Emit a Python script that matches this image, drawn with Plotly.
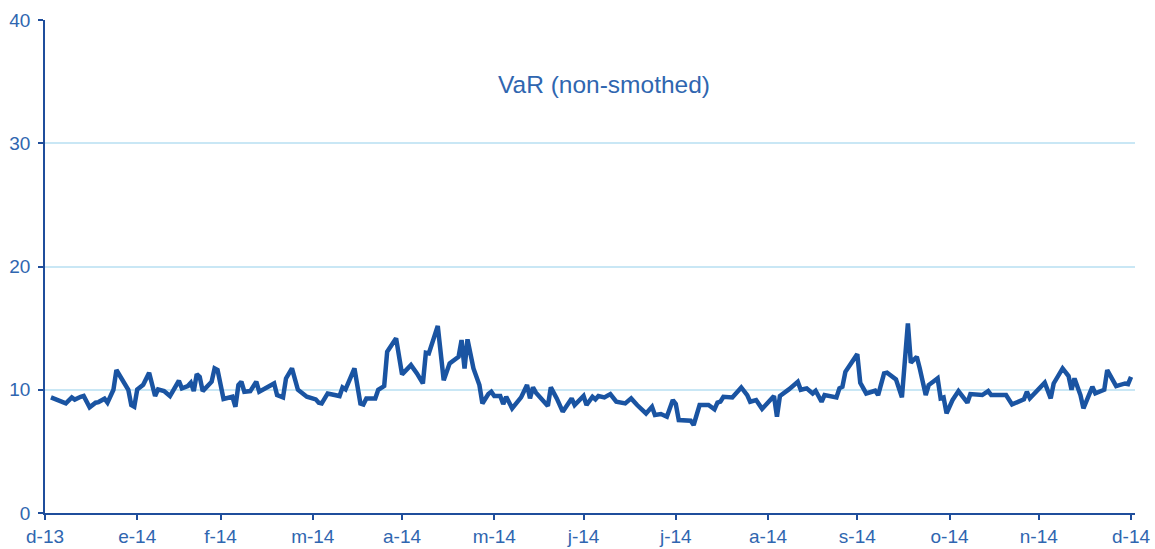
import pandas as pd
import plotly.graph_objects as go

# Days elapsed since 2013-12-31 for each observation
day_offsets = [
    2, 7, 9, 10, 12, 13, 15, 17, 18, 20, 21, 23, 24, 26, 28, 29, 30, 31, 33, 35,
    36, 37, 38, 40, 42, 44, 45, 46, 48, 49, 50, 51, 52, 53, 56, 57, 58, 60, 63, 64,
    65, 66, 67, 69, 71, 72, 77, 78, 80, 81, 83, 85, 88, 91, 92, 93, 95, 99, 100, 101,
    104, 106, 107, 108, 111, 112, 114, 115, 116, 118, 120, 123, 125, 127, 128, 129, 132, 134, 136, 139,
    140, 141, 142, 144, 146, 147, 149, 150, 151, 153, 154, 155, 157, 160, 162, 163, 164, 165, 169, 170,
    172, 174, 177, 178, 181, 182, 184, 185, 186, 188, 190, 192, 195, 197, 199, 202, 204, 205, 207, 209,
    211, 212, 213, 217, 218, 220, 223, 225, 226, 227, 228, 231, 234, 236, 237, 239, 241, 245, 246, 247,
    250, 253, 254, 256, 258, 259, 261, 262, 266, 267, 268, 269, 273, 274, 276, 279, 280, 282, 283, 286,
    288, 289, 290, 291, 293, 294, 296, 297, 300, 301, 302, 303, 305, 307, 310, 311, 315, 317, 318, 323,
    325, 329, 330, 331, 334, 336, 338, 339, 342, 344, 345, 346, 348, 349, 352, 353, 356, 357, 360, 363,
    364, 365,
]
var_values = [
    9.38, 8.9, 9.38, 9.2, 9.43, 9.5, 8.57, 8.95, 9.0, 9.27, 8.95, 10.0, 11.6, 10.8, 10.0, 8.76, 8.62, 10.03, 10.4, 11.38,
    10.24, 9.49, 10.03, 9.89, 9.49, 10.24, 10.73, 10.11, 10.3, 10.57, 9.89, 11.27, 11.05, 9.89, 10.65, 11.73, 11.6, 9.25, 9.43, 8.62,
    10.38, 10.65, 9.84, 9.89, 10.65, 9.84, 10.51, 9.57, 9.38, 10.92, 11.73, 10.0, 9.43, 9.22, 8.95, 8.89, 9.7, 9.49, 10.19, 10.03,
    11.73, 8.89, 8.81, 9.3, 9.3, 10.0, 10.3, 13.08, 13.49, 14.17, 11.25, 12.0, 11.33, 10.51, 13.0, 12.95, 15.17, 10.78, 12.14, 12.68,
    14.03, 11.73, 14.09, 11.73, 10.38, 8.89, 9.65, 9.84, 9.49, 9.49, 8.84, 9.43, 8.49, 9.38, 10.38, 9.3, 10.19, 9.76, 8.68, 10.19,
    9.3, 8.22, 9.3, 8.76, 9.49, 8.76, 9.43, 9.22, 9.49, 9.38, 9.65, 9.03, 8.89, 9.3, 8.76, 8.08, 8.62, 7.95, 8.03, 7.81,
    9.16, 8.84, 7.54, 7.49, 7.14, 8.76, 8.76, 8.41, 8.95, 9.03, 9.43, 9.38, 10.19, 9.57, 9.03, 9.16, 8.45, 9.49, 7.81, 9.49,
    10.03, 10.65, 10.0, 10.11, 9.7, 9.92, 9.03, 9.57, 9.38, 10.11, 10.24, 11.46, 12.89, 10.57, 9.7, 9.92, 9.57, 11.33, 11.38, 10.84,
    9.38, 12.95, 15.38, 12.19, 12.68, 11.73, 9.57, 10.38, 10.92, 9.3, 9.38, 8.08, 9.16, 9.89, 8.95, 9.65, 9.57, 9.89, 9.57, 9.57,
    8.81, 9.22, 9.84, 9.3, 10.0, 10.57, 9.3, 10.51, 11.73, 11.11, 10.0, 10.92, 9.57, 8.49, 10.24, 9.7, 10.0, 11.6, 10.3, 10.51,
    10.46, 11.05,
]

tick_dates = ["2013-12-31", "2014-01-31", "2014-02-28", "2014-03-31", "2014-04-30",
              "2014-05-31", "2014-06-30", "2014-07-31", "2014-08-31", "2014-09-30",
              "2014-10-31", "2014-11-30", "2014-12-31"]
tick_labels = ["d-13", "e-14", "f-14", "m-14", "a-14", "m-14", "j-14", "j-14",
               "a-14", "s-14", "o-14", "n-14", "d-14"]
y_ticks = [0, 10, 20, 30, 40]
title_text = "VaR (non-smothed)"

dates = pd.Timestamp("2013-12-31") + pd.to_timedelta(day_offsets, unit="D")

LINE = "#1A54A2"
TXT = "#2F66B0"
AX = "#1F4E9C"
GRID = "#C9E7F5"
FONT = "Arial, Liberation Sans, sans-serif"

fig = go.Figure()
fig.add_trace(go.Scatter(
    x=dates, y=var_values, mode="lines",
    line=dict(color=LINE, width=4.5), showlegend=False, hoverinfo="x+y",
))

fig.update_layout(
    width=1155, height=549,
    margin=dict(l=45, r=20, t=20, b=36, autoexpand=False),
    paper_bgcolor="white", plot_bgcolor="white",
    font=dict(family=FONT, size=19, color=TXT),
    xaxis=dict(
        type="date", automargin=False,
        range=["2013-12-31", "2015-01-01 08:00"],
        tickmode="array", tickvals=tick_dates, ticktext=tick_labels,
        showgrid=False, showline=True, linecolor=AX, linewidth=1.5,
        ticks="outside", ticklen=5, tickcolor=AX, tickwidth=1.5,
        tickfont=dict(size=19, color=TXT), zeroline=False,
    ),
    yaxis=dict(
        range=[0, 40], tickmode="array", tickvals=y_ticks, automargin=False,
        showgrid=True, gridcolor=GRID, gridwidth=1.5,
        showline=True, linecolor=AX, linewidth=1.5,
        ticks="outside", ticklen=5, tickcolor=AX, tickwidth=1.5,
        tickfont=dict(size=19, color=TXT), zeroline=False,
        ticklabelstandoff=4,
    ),
    annotations=[dict(
        text=title_text, xref="paper", yref="paper", x=0.513, y=0.87,
        xanchor="center", yanchor="middle", showarrow=False,
        font=dict(size=24.5, color=TXT, family=FONT),
    )],
)

fig.write_html(
    "out.html",
    config={"displayModeBar": False},
    post_script="document.body.style.margin='0';document.body.style.overflow='hidden';",
)
